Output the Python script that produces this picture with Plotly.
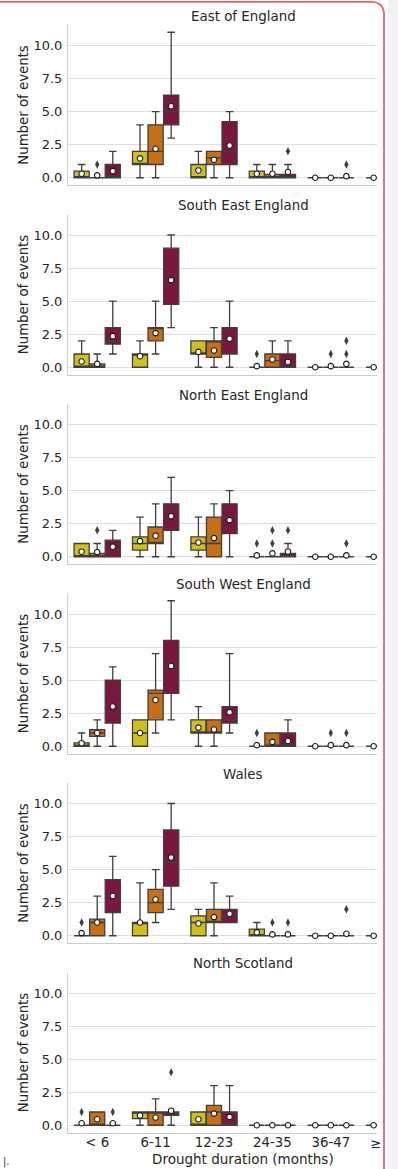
import plotly.graph_objects as go

# ---------------- data ----------------
CATEGORIES = ["< 6", "6-11", "12-23", "24-35", "36-47", "≥ 48"]
SERIES = ["Series 1", "Series 2", "Series 3"]
REGIONS = ["East of England", "South East England", "North East England",
           "South West England", "Wales", "North Scotland"]
Y_TICKS = [0, 2.5, 5, 7.5, 10]

# rows = series (yellow, orange, maroon); columns = CATEGORIES
east_q1 = [[0, 1, 0, 0, 0, 0], [0, 1, 1, 0, 0, 0], [0, 4, 1, 0, 0, 0]]
east_med = [[0, 1, 0, 0, 0, 0], [0, 2, 1.5, 0, 0, 0], [0, 5, 2, 0, 0, 0]]
east_q3 = [[0.5, 2, 1, 0.5, 0, 0], [0, 4, 2, 0.25, 0, 0], [1, 6.25, 4.25, 0.25, 0, 0]]
east_lo = [[0, 0, 0, 0, 0, 0], [0, 0, 0, 0, 0, 0], [0, 3, 0, 0, 0, 0]]
east_hi = [[1, 4, 2, 1, 0, 0], [0, 5, 2, 1, 0, 0], [2, 11, 5, 1, 0, 0]]
east_mean = [[0.3, 1.46, 0.55, 0.3, 0, 0], [0.18, 2.19, 1.36, 0.3, 0, 0], [0.5, 5.4, 2.44, 0.43, 0.12, 0]]
east_out = [[], [("< 6", 1)], [("24-35", 2), ("36-47", 1)]]

se_q1 = [[0, 0, 1, 0, 0, 0], [0, 2, 0.75, 0, 0, 0], [1.75, 4.75, 1, 0, 0, 0]]
se_med = [[0, 1, 1, 0, 0, 0], [0, 3, 2, 0.5, 0, 0], [2, 6.5, 2, 0, 0, 0]]
se_q3 = [[1, 1, 2, 0, 0, 0], [0.25, 3, 2, 1, 0, 0], [3, 9, 3, 1, 0, 0]]
se_lo = [[0, 0, 0, 0, 0, 0], [0, 1, 0, 0, 0, 0], [1, 3, 0, 0, 0, 0]]
se_hi = [[2, 2, 2, 0, 0, 0], [1, 5, 3, 2, 0, 0], [5, 10, 5, 2, 0, 0]]
se_mean = [[0.43, 0.83, 1.16, 0.08, 0, 0], [0.25, 2.58, 1.26, 0.58, 0.08, 0], [2.35, 6.59, 2.15, 0.4, 0.25, 0]]
se_out = [[("24-35", 1)], [("36-47", 1)], [("36-47", 1), ("36-47", 2)]]

ne_q1 = [[0, 0.5, 0.5, 0, 0, 0], [0, 1, 0, 0, 0, 0], [0, 2, 1.75, 0, 0, 0]]
ne_med = [[0, 1, 1, 0, 0, 0], [0, 1, 1, 0, 0, 0], [0.5, 3.5, 3, 0, 0, 0]]
ne_q3 = [[1, 1.5, 1.5, 0, 0, 0], [0.25, 2.25, 3, 0, 0, 0], [1.25, 4, 4, 0.25, 0, 0]]
ne_lo = [[0, 0, 0, 0, 0, 0], [0, 0, 0, 0, 0, 0], [0, 0, 0, 0, 0, 0]]
ne_hi = [[1, 3, 3, 0, 0, 0], [1, 4, 4, 0, 0, 0], [2, 6, 5, 1, 0, 0]]
ne_mean = [[0.38, 1.18, 1.08, 0.1, 0, 0], [0.35, 1.59, 1.41, 0.25, 0, 0], [0.76, 3.07, 2.77, 0.4, 0.1, 0]]
ne_out = [[("24-35", 1)], [("< 6", 2), ("24-35", 1), ("24-35", 2)], [("24-35", 2), ("36-47", 1)]]

sw_q1 = [[0, 0, 1, 0, 0, 0], [0.75, 2, 1, 0, 0, 0], [1.75, 4, 1.75, 0, 0, 0]]
sw_med = [[0, 1, 1, 0, 0, 0], [1, 4, 1, 0, 0, 0], [2.5, 6, 2, 0, 0, 0]]
sw_q3 = [[0.25, 2, 2, 0, 0, 0], [1.25, 4.25, 2, 1, 0, 0], [5, 8, 3, 1, 0, 0]]
sw_lo = [[0, 0, 0, 0, 0, 0], [0, 1, 0, 0, 0, 0], [0, 2, 1, 0, 0, 0]]
sw_hi = [[1, 2, 3, 0, 0, 0], [2, 7, 2, 1, 0, 0], [6, 11, 7, 2, 0, 0]]
sw_mean = [[0.23, 1.0, 1.41, 0.08, 0, 0], [1.0, 3.5, 1.26, 0.33, 0.08, 0], [3.0, 6.07, 2.57, 0.4, 0.08, 0]]
sw_out = [[("24-35", 1)], [("36-47", 1)], [("36-47", 1)]]

wa_q1 = [[0, 0, 0, 0, 0, 0], [0, 1.75, 1, 0, 0, 0], [1.75, 3.75, 1, 0, 0, 0]]
wa_med = [[0, 1, 1, 0, 0, 0], [1, 2.5, 1, 0, 0, 0], [3, 5.5, 1.5, 0, 0, 0]]
wa_q3 = [[0, 1, 1.5, 0.5, 0, 0], [1.25, 3.5, 2, 0, 0, 0], [4.25, 8, 2, 0, 0, 0]]
wa_lo = [[0, 0, 0, 0, 0, 0], [0, 1, 0, 0, 0, 0], [0, 2, 1, 0, 0, 0]]
wa_hi = [[0, 4, 2, 1, 0, 0], [3, 5, 4, 0, 0, 0], [6, 10, 3, 0, 0, 0]]
wa_mean = [[0.2, 1.0, 0.93, 0.25, 0, 0], [1.0, 2.74, 1.41, 0.1, 0, 0], [3.0, 5.92, 1.66, 0.1, 0.15, 0]]
wa_out = [[("< 6", 1)], [("24-35", 1)], [("24-35", 1), ("36-47", 2)]]

ns_q1 = [[0, 0.5, 0, 0, 0, 0], [0, 0, 0, 0, 0, 0], [0, 0.75, 0, 0, 0, 0]]
ns_med = [[0, 1, 0, 0, 0, 0], [0, 1, 1, 0, 0, 0], [0, 1, 0, 0, 0, 0]]
ns_q3 = [[0, 1, 1, 0, 0, 0], [1, 1, 1.5, 0, 0, 0], [0, 1, 1, 0, 0, 0]]
ns_lo = [[0, 0, 0, 0, 0, 0], [0, 0, 0, 0, 0, 0], [0, 0, 0, 0, 0, 0]]
ns_hi = [[0, 1, 1, 0, 0, 0], [1, 2, 3, 0, 0, 0], [0, 1, 3, 0, 0, 0]]
ns_mean = [[0.15, 0.73, 0.45, 0, 0, 0], [0.45, 0.58, 0.88, 0, 0, 0], [0.15, 1.1, 0.63, 0, 0, 0]]
ns_out = [[("< 6", 1)], [], [("< 6", 1), ("6-11", 4)]]

# ---------------- style ----------------
COLORS = ["#cfc01c", "#c66f16", "#7b163f"]
EDGE = "#3f3f3f"
FONT = "DejaVu Sans"
TXT = "#262626"

TABLE = {
    "East of England": (east_q1, east_med, east_q3, east_lo, east_hi, east_mean, east_out),
    "South East England": (se_q1, se_med, se_q3, se_lo, se_hi, se_mean, se_out),
    "North East England": (ne_q1, ne_med, ne_q3, ne_lo, ne_hi, ne_mean, ne_out),
    "South West England": (sw_q1, sw_med, sw_q3, sw_lo, sw_hi, sw_mean, sw_out),
    "Wales": (wa_q1, wa_med, wa_q3, wa_lo, wa_hi, wa_mean, wa_out),
    "North Scotland": (ns_q1, ns_med, ns_q3, ns_lo, ns_hi, ns_mean, ns_out),
}

# figure is 388 px wide; the page behind it (grey) fills the rest of the window
W, H = 388, 1169
ML, MR, MT, MB = 68, 0, 25, 36
PW, PH = W - ML - MR, H - MT - MB
PANEL, GAP = 160, 29.5
CAT_PX = 58.4                      # pixel width of one category slot
X_RANGE = [-0.5, -0.5 + PW / CAT_PX]


def px_x(px):
    return (px - ML) / PW


def px_y(py):
    return 1 - (py - MT) / PH


fig = go.Figure()

# boxes first (drawn below the markers)
for r, region in enumerate(REGIONS):
    xa = "x" if r == 0 else f"x{r + 1}"
    ya = "y" if r == 0 else f"y{r + 1}"
    q1, med, q3, lo, hi, mean, out = TABLE[region]
    for h in range(3):
        fig.add_trace(go.Box(
            x=CATEGORIES, q1=q1[h], median=med[h], q3=q3[h],
            lowerfence=lo[h], upperfence=hi[h],
            xaxis=xa, yaxis=ya, name=SERIES[h], offsetgroup=str(h),
            fillcolor=COLORS[h], line=dict(color=EDGE, width=1.3),
            whiskerwidth=0.5, boxpoints=False, showlegend=False,
            hoverinfo="skip"))

for r, region in enumerate(REGIONS):
    xa = "x" if r == 0 else f"x{r + 1}"
    ya = "y" if r == 0 else f"y{r + 1}"
    q1, med, q3, lo, hi, mean, out = TABLE[region]
    for h in range(3):
        fig.add_trace(go.Scatter(
            x=CATEGORIES, y=mean[h], mode="markers", xaxis=xa, yaxis=ya,
            offsetgroup=str(h), name=SERIES[h], showlegend=False,
            marker=dict(symbol="circle", size=5.5, color="white",
                        line=dict(color="#1a1a1a", width=1.1)),
            hoverinfo="skip"))
        if out[h]:
            fig.add_trace(go.Scatter(
                x=[c for c, v in out[h]], y=[v for c, v in out[h]],
                mode="markers", xaxis=xa, yaxis=ya, offsetgroup=str(h),
                name=SERIES[h], showlegend=False,
                marker=dict(symbol="diamond-tall", size=6, color=EDGE,
                            line=dict(width=0)),
                hoverinfo="skip"))

layout = dict(
    width=W, height=H,
    margin=dict(l=ML, r=MR, t=MT, b=MB, pad=0),
    paper_bgcolor="white", plot_bgcolor="white",
    font=dict(family=FONT, color=TXT, size=13),
    boxmode="group", boxgap=0.2, boxgroupgap=0.03,
    scattermode="group", scattergap=0.2,
    showlegend=False,
)

annotations = []
for r, region in enumerate(REGIONS):
    top = 1 - r * (PANEL + GAP) / PH
    bot = top - PANEL / PH
    xk = "xaxis" if r == 0 else f"xaxis{r + 1}"
    yk = "yaxis" if r == 0 else f"yaxis{r + 1}"
    xa = "x" if r == 0 else f"x{r + 1}"
    ya = "y" if r == 0 else f"y{r + 1}"
    layout[xk] = dict(
        domain=[0, 1], anchor=ya, type="category",
        categoryorder="array", categoryarray=CATEGORIES,
        range=X_RANGE, showgrid=False, zeroline=False,
        showline=True, linecolor="#cccccc", linewidth=1,
        ticks="", showticklabels=(r == len(REGIONS) - 1),
        ticklabelstandoff=-2,
        tickfont=dict(family=FONT, size=13.3, color=TXT))
    layout[yk] = dict(
        domain=[bot, top], anchor=xa, range=[-0.55, 11.55],
        tickvals=Y_TICKS, tickformat=".1f",
        showgrid=True, gridcolor="#dedede", gridwidth=1, zeroline=False,
        showline=True, linecolor="#cccccc", linewidth=1, ticks="",
        ticklabelstandoff=2,
        tickfont=dict(family=FONT, size=13, color=TXT),
        title=dict(text="Number of events", standoff=1,
                   font=dict(family=FONT, size=13.3, color=TXT)))
    annotations.append(dict(
        text=region, xref="paper", yref="paper", x=px_x(243), y=top,
        xanchor="center", yanchor="middle", yshift=9, showarrow=False,
        font=dict(family=FONT, size=13.4, color=TXT)))

annotations.append(dict(
    text="Drought duration (months)", xref="paper", yref="paper",
    x=px_x(243), y=px_y(1159), xanchor="center", yanchor="middle",
    showarrow=False, font=dict(family=FONT, size=13.5, color=TXT)))
# left edge of the cropped last tick label ("≥ 48")
annotations.append(dict(
    text="≥", xref="paper", yref="paper", x=px_x(368), y=px_y(1143),
    xanchor="left", yanchor="middle", showarrow=False,
    font=dict(family=FONT, size=13.3, color=TXT)))
annotations.append(dict(
    text="|.", xref="paper", yref="paper", x=px_x(1), y=px_y(1162),
    xanchor="left", yanchor="middle", showarrow=False,
    font=dict(family=FONT, size=10, color="#333333")))
layout["annotations"] = annotations

# cropping frame on the right (white strip, red rounded border)
shapes = [
    dict(type="rect", xref="paper", yref="paper", layer="above",
         x0=px_x(377), x1=px_x(W + 5), y0=px_y(1180), y1=px_y(-10),
         fillcolor="white", line=dict(width=0)),
    dict(type="path", xref="paper", yref="paper", layer="above",
         path=(f"M {px_x(-5)},{px_y(1.8)} L {px_x(371)},{px_y(1.8)} "
               f"Q {px_x(384)},{px_y(1.8)} {px_x(384)},{px_y(15)} "
               f"L {px_x(384)},{px_y(1190)}"),
         line=dict(color="#e0656f", width=1.8)),
]
layout["shapes"] = shapes

fig.update_layout(**layout)
fig.write_html(
    "out.html",
    config={"displayModeBar": False, "staticPlot": True},
    post_script="document.body.style.margin='0px';"
                "document.body.style.overflow='hidden';"
                "document.body.style.background='#f1f1f1';")
